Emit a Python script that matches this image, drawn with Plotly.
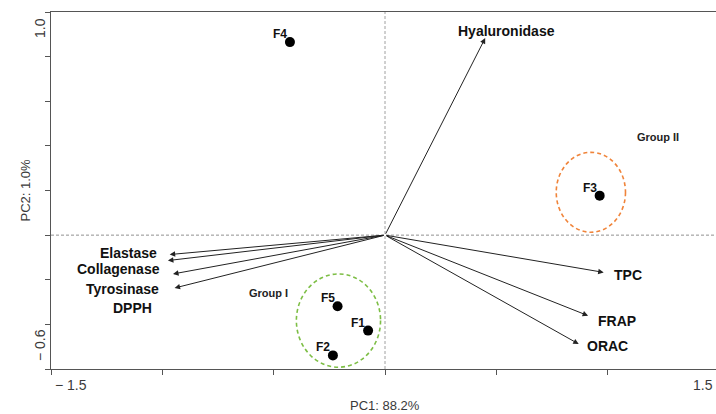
import plotly.graph_objects as go

# ---- data ----
sample_names = ["F1", "F2", "F3", "F4", "F5"]
sample_pc1 = [-0.076, -0.234, 0.964, -0.427, -0.213]
sample_pc2 = [-0.428, -0.539, 0.177, 0.865, -0.319]

variable_names = ["Hyaluronidase", "Elastase", "Collagenase", "Tyrosinase", "DPPH", "TPC", "FRAP", "ORAC"]
variable_pc1 = [0.450, -0.967, -0.975, -0.952, -0.945, 0.982, 0.912, 0.870]
variable_pc2 = [0.883, -0.087, -0.114, -0.174, -0.237, -0.167, -0.361, -0.488]

group_names = ["Group I", "Group II"]
group_label_pc1 = [-0.522, 1.224]
group_label_pc2 = [-0.261, 0.439]
group_ellipse_pc1 = [(-0.398, -0.020), (0.769, 1.080)]
group_ellipse_pc2 = [(-0.592, -0.174), (0.013, 0.371)]

x_tick_vals = [-1.5, -1.0, -0.5, 0.0, 0.5, 1.0, 1.5]
y_tick_vals = [-0.6, -0.4, -0.2, 0.0, 0.2, 0.4, 0.6, 0.8, 1.0]
x_axis_title = "PC1: 88.2%"
y_axis_title = "PC2: 1.0%"

# ---- styling ----
FONT = "Liberation Sans, Arial, sans-serif"
AXIS_COL = "#555555"
TEXT_COL = "#111111"
GRAY_TXT = "#3a3a3a"
ellipse_colors = ["#7DBE45", "#F0843A"]

# label offsets (px) relative to arrow tips: (xanchor, xshift, yshift)
var_label_style = {
    "Hyaluronidase": ("center", 21, 7),
    "Elastase": ("right", -11, 2),
    "Collagenase": ("right", -6, -8),
    "Tyrosinase": ("right", -12, -15),
    "DPPH": ("right", -21, -20),
    "TPC": ("left", 8, -3),
    "FRAP": ("left", 8, -5),
    "ORAC": ("left", 6, -2),
}

fig = go.Figure()

fig.add_trace(go.Scatter(
    x=sample_pc1, y=sample_pc2, mode="markers",
    marker=dict(size=10, color="black"),
    hoverinfo="text", text=sample_names, showlegend=False,
))

shapes = [
    dict(type="line", xref="x", yref="paper", x0=0, x1=0, y0=0, y1=1,
         line=dict(color="#a0a0a0", width=1, dash="3px,2px"), layer="below"),
    dict(type="line", xref="paper", yref="y", x0=0, x1=1, y0=0, y1=0,
         line=dict(color="#909090", width=1, dash="3px,2px"), layer="below"),
]
for (ex, ey, col) in zip(group_ellipse_pc1, group_ellipse_pc2, ellipse_colors):
    shapes.append(dict(type="circle", xref="x", yref="y",
                       x0=ex[0], x1=ex[1], y0=ey[0], y1=ey[1],
                       line=dict(color=col, width=1.6, dash="4px,3px")))

annotations = []
# arrows
for name, vx, vy in zip(variable_names, variable_pc1, variable_pc2):
    annotations.append(dict(
        x=vx, y=vy, ax=0, ay=0, xref="x", yref="y", axref="x", ayref="y",
        text="", showarrow=True, arrowhead=2, arrowsize=1.1, arrowwidth=1,
        arrowcolor="#222222", standoff=0, startstandoff=0,
    ))
    xa, xs, ys = var_label_style[name]
    annotations.append(dict(
        x=vx, y=vy, xref="x", yref="y", text=name, showarrow=False,
        xanchor=xa, yanchor="middle", xshift=xs, yshift=ys,
        font=dict(family=FONT, size=14, color=TEXT_COL, weight="bold"),
    ))

# sample labels
for name, sx, sy in zip(sample_names, sample_pc1, sample_pc2):
    annotations.append(dict(
        x=sx, y=sy, xref="x", yref="y", text=name, showarrow=False,
        xanchor="right", yanchor="bottom", xshift=-1, yshift=-1,
        font=dict(family=FONT, size=12, color=TEXT_COL, weight="bold"),
    ))

# group labels
for name, gx, gy in zip(group_names, group_label_pc1, group_label_pc2):
    annotations.append(dict(
        x=gx, y=gy, xref="x", yref="y", text=name, showarrow=False,
        xanchor="center", yanchor="middle",
        font=dict(family=FONT, size=11, color="#222222", weight="bold"),
    ))

# axis end labels (as in the reference, only the ends are labelled)
tick_font = dict(family=FONT, size=14, color=GRAY_TXT)
annotations += [
    dict(x=0, y=0, xref="paper", yref="paper", text="\u2212 1.5", showarrow=False,
         xanchor="left", yanchor="top", xshift=2, yshift=-6, font=tick_font),
    dict(x=1, y=0, xref="paper", yref="paper", text="1.5", showarrow=False,
         xanchor="right", yanchor="top", xshift=-1, yshift=-6, font=tick_font),
    dict(x=0, y=1, xref="paper", yref="paper", text="1.0", showarrow=False,
         textangle=-90, xanchor="center", yanchor="top", xshift=-11, yshift=-4, font=tick_font),
    dict(x=0, y=0, xref="paper", yref="paper", text="\u2212 0.6", showarrow=False,
         textangle=-90, xanchor="center", yanchor="bottom", xshift=-11, yshift=6, font=tick_font),
    dict(x=0, y=0, xref="x", yref="paper", text=x_axis_title, showarrow=False,
         xanchor="center", yanchor="middle", yshift=-36,
         font=dict(family=FONT, size=13, color=GRAY_TXT)),
    dict(x=0, y=0.5, xref="paper", yref="paper", text=y_axis_title, showarrow=False,
         textangle=-90, xanchor="center", yanchor="middle", xshift=-26,
         font=dict(family=FONT, size=13, color=GRAY_TXT)),
]

fig.update_layout(
    width=716, height=414,
    margin=dict(l=51, r=0, t=12, b=45),
    paper_bgcolor="white", plot_bgcolor="white",
    shapes=shapes, annotations=annotations,
    showlegend=False,
    xaxis=dict(range=[-1.5, 1.4865], showgrid=False, zeroline=False,
               showline=True, linecolor=AXIS_COL, linewidth=1, mirror=True,
               tickmode="array", tickvals=x_tick_vals, ticks="outside",
               ticklen=5, tickcolor=AXIS_COL, showticklabels=False),
    yaxis=dict(range=[-0.6, 1.0], showgrid=False, zeroline=False,
               showline=True, linecolor=AXIS_COL, linewidth=1, mirror=False,
               tickmode="array", tickvals=y_tick_vals, ticks="outside",
               ticklen=5, tickcolor=AXIS_COL, showticklabels=False),
)

fig.write_html("out.html")
